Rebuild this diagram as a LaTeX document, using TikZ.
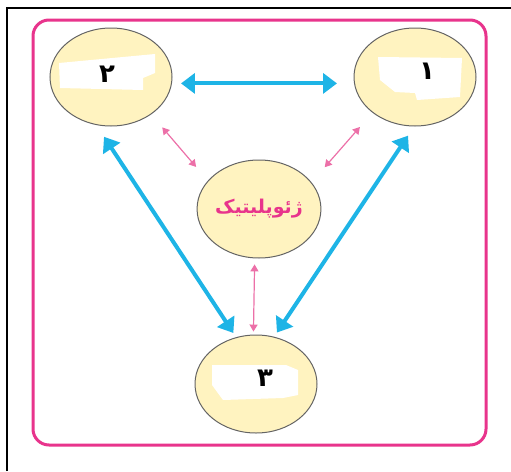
\documentclass[tikz,border=0pt]{standalone}
\usepackage{fontspec}
\usetikzlibrary{shapes.geometric,arrows.meta,positioning}
\TeXXeTstate=1
\newfontfamily\arabicfont[Script=Arabic]{DejaVu Sans}
\definecolor{geoblue}{RGB}{30,180,230}
\definecolor{geopink}{RGB}{232,52,140}
\definecolor{geolightpink}{RGB}{236,112,168}
\definecolor{geoyellow}{RGB}{255,243,192}
\definecolor{geogray}{RGB}{100,100,100}

\begin{document}
\begin{tikzpicture}[x=1pt, y=-1pt,
    region/.style={ellipse, draw=geogray, line width=1pt, fill=geoyellow,
      minimum width=122pt, minimum height=98pt, inner sep=0pt},
    num/.style={font=\arabicfont\bfseries\fontsize{26}{26}\selectfont, text=black, inner sep=0pt},
    bigarrow/.style={geoblue, line width=4pt,
      {Triangle[length=14pt,width=20pt]}-{Triangle[length=14pt,width=20pt]}},
    smallarrow/.style={geolightpink, line width=1.2pt,
      {Triangle[length=7pt,width=8pt]}-{Triangle[length=7pt,width=8pt]}}
  ]
  \useasboundingbox (0,0) rectangle (511,471);
  \draw[line width=2pt] (7,471) -- (7,8) -- (511,8);
  \draw[geopink, line width=3pt, rounded corners=16pt] (33,20) rectangle (486,445);

  % the three numbered regions
  \node[region, path picture={\fill[white]
      ([shift={(-52pt,14pt)}]path picture bounding box.center) --
      ([shift={(44pt,23pt)}]path picture bounding box.center) --
      ([shift={(44pt,4pt)}]path picture bounding box.center) --
      ([shift={(32pt,-1pt)}]path picture bounding box.center) --
      ([shift={(32pt,-13pt)}]path picture bounding box.center) --
      ([shift={(-51pt,-11pt)}]path picture bounding box.center) -- cycle;}]
    (n2) at (111,77) {};
  \node[region, path picture={\fill[white]
      ([shift={(-37pt,20pt)}]path picture bounding box.center) --
      ([shift={(47pt,19pt)}]path picture bounding box.center) --
      ([shift={(45pt,-20pt)}]path picture bounding box.center) --
      ([shift={(2pt,-23pt)}]path picture bounding box.center) --
      ([shift={(0pt,-16pt)}]path picture bounding box.center) --
      ([shift={(-20pt,-15pt)}]path picture bounding box.center) --
      ([shift={(-35pt,-3pt)}]path picture bounding box.center) -- cycle;}]
    (n1) at (415,77) {};
  \node[region, path picture={\fill[white]
      ([shift={(-44pt,19pt)}]path picture bounding box.center) --
      ([shift={(30pt,19pt)}]path picture bounding box.center) --
      ([shift={(42pt,14pt)}]path picture bounding box.center) --
      ([shift={(42pt,-11pt)}]path picture bounding box.center) --
      ([shift={(27pt,-14pt)}]path picture bounding box.center) --
      ([shift={(-33pt,-16pt)}]path picture bounding box.center) --
      ([shift={(-44pt,-1pt)}]path picture bounding box.center) -- cycle;}]
    (n3) at (256,384) {};
  \node[region, font=\arabicfont\bfseries\fontsize{19}{19}\selectfont, text=geopink]
    (ng) at (259,209) {\beginR ژئوپلیتیک\endR};

  \node[num] (t2) at (107,74) {\beginR ۲\endR};
  \node[num] (t1) at (427,71) {\beginR ۱\endR};
  \node[num] (t3) at (265,378) {\beginR ۳\endR};

  \draw[bigarrow, shorten <=9pt, shorten >=17pt] (n2.-6) -- (n1.186);
  \draw[bigarrow, shorten <=14pt, shorten >=5pt] (n2.-107) -- (n3.113);
  \draw[bigarrow, shorten <=11pt, shorten >=5pt] (n1.-91) -- (n3.69);

  \draw[smallarrow, shorten <=17pt, shorten >=18pt] (n2.-43) -- (ng.151);
  \draw[smallarrow, shorten <=19pt, shorten >=20pt] (n1.-140) -- (ng.27);
  \draw[smallarrow, shorten <=6pt, shorten >=3pt] (ng.-95) -- (n3.93);
\end{tikzpicture}
\end{document}
